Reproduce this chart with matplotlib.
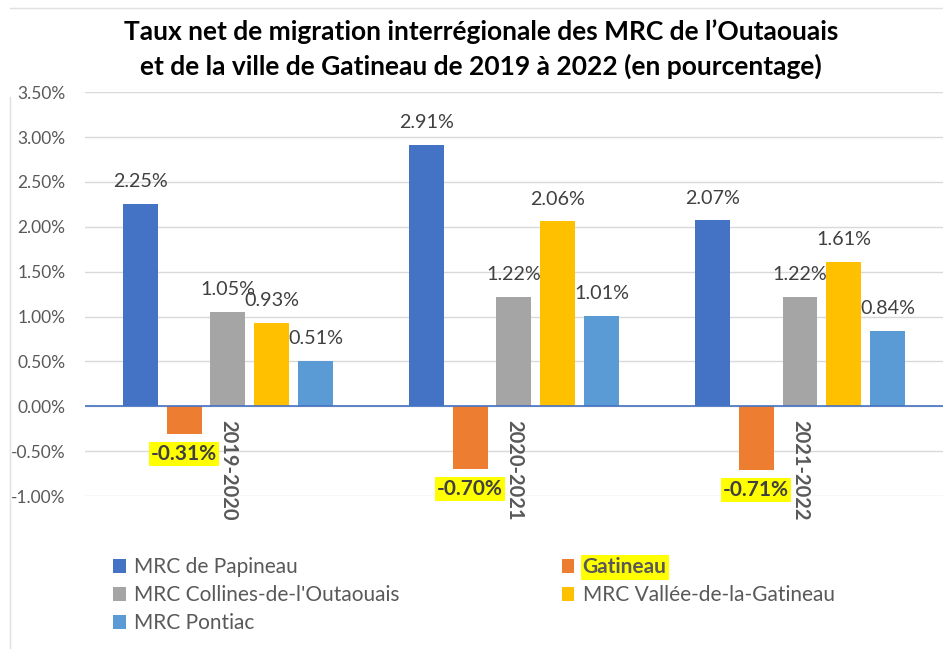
import numpy as np
import matplotlib.pyplot as plt
from matplotlib.ticker import FuncFormatter

periods = ['2019-2020', '2020-2021', '2021-2022']
series = ['MRC de Papineau', 'Gatineau', "MRC Collines-de-l'Outaouais",
          'MRC Vallée-de-la-Gatineau', 'MRC Pontiac']
papineau = [2.25, 2.91, 2.07]
gatineau = [-0.31, -0.70, -0.71]
collines = [1.05, 1.22, 1.22]
vallee = [0.93, 2.06, 1.61]
pontiac = [0.51, 1.01, 0.84]
colors = ['#4472C4', '#ED7D31', '#A5A5A5', '#FFC000', '#5B9BD5']

plt.rcParams['font.family'] = ['Lato', 'DejaVu Sans']

fig = plt.figure(figsize=(9.43, 6.49), dpi=100)
ax = fig.add_axes([0.090, 0.2357, 0.91, 0.6223])

x = np.arange(len(periods))
step = 0.153
width = 0.122
values = [papineau, gatineau, collines, vallee, pontiac]
handles = []
for i, (name, vals, c) in enumerate(zip(series, values, colors)):
    pos = x + (i - 2) * step
    b = ax.bar(pos, vals, width, color=c, label=name, zorder=3)
    handles.append(b)
    for p, v in zip(pos, vals):
        if v >= 0:
            ax.annotate(f'{v:.2f}%', (p, v), xytext=(0, 10), textcoords='offset points',
                        ha='center', va='bottom', fontsize=14.2, color='#404040')
        else:
            ax.annotate(f'{v:.2f}%', (p, v), xytext=(0, -7), textcoords='offset points',
                        ha='center', va='top', fontsize=15, color='#404040',
                        fontweight='bold',
                        bbox=dict(boxstyle='square,pad=0.1', fc='#FFFF00', ec='none'))

ax.set_xlim(-0.5, 2.5)
ax.set_ylim(-1.0, 3.5)
ax.set_yticks(np.arange(-1.0, 3.51, 0.5))
ax.yaxis.set_major_formatter(FuncFormatter(lambda v, _: f'{v:.2f}%'))
ax.tick_params(axis='y', length=0, labelsize=12.5, labelcolor='#595959', pad=14)
ax.set_xticks([])
ax.grid(axis='y', color='#D9D9D9', linewidth=1, zorder=0)
ax.axhline(0, color='#4472C4', linewidth=1.2, zorder=4)
for s in ax.spines.values():
    s.set_visible(False)

for xi, lab in zip(x, periods):
    ax.text(xi, -0.15, lab, rotation=-90, ha='center', va='top', fontsize=14.5,
            fontweight='bold', color='#595959')

fig.text(0.51, 0.952, "Taux net de migration interrégionale des MRC de l’Outaouais",
         ha='center', va='center', fontsize=19, fontweight='bold')
fig.text(0.51, 0.898, "et de la ville de Gatineau de 2019 à 2022 (en pourcentage)",
         ha='center', va='center', fontsize=19, fontweight='bold')

order = [0, 2, 4, 1, 3]
leg = fig.legend([handles[i] for i in order], [series[i] for i in order], ncol=2,
                 loc='upper left', bbox_to_anchor=(0.1, 0.17), frameon=False,
                 fontsize=15, handlelength=0.6, handleheight=0.6, handletextpad=0.4,
                 columnspacing=7.8, labelspacing=0.38)
for t in leg.get_texts():
    t.set_color('#595959')
    if t.get_text() == 'Gatineau':
        t.set_fontweight('bold')
        t.set_bbox(dict(boxstyle='square,pad=0.1', fc='#FFFF00', ec='none'))

fig.add_artist(plt.Line2D([0.011, 0.011], [0.0, 0.85], color='#E0E0E0', linewidth=1))
fig.add_artist(plt.Line2D([0.011, 1.0], [0.988, 0.988], color='#E0E0E0', linewidth=1))

fig.savefig('out.png', dpi=100)
